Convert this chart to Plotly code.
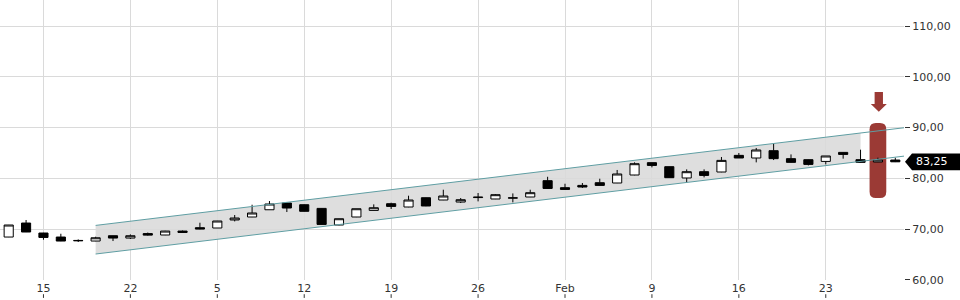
import plotly.graph_objects as go

dates = ["2014-12-11", "2014-12-12", "2014-12-15", "2014-12-16", "2014-12-17", "2014-12-18", "2014-12-19",
         "2014-12-22", "2014-12-23", "2014-12-29", "2014-12-30", "2015-01-02",
         "2015-01-05", "2015-01-06", "2015-01-07", "2015-01-08", "2015-01-09",
         "2015-01-12", "2015-01-13", "2015-01-14", "2015-01-15", "2015-01-16",
         "2015-01-19", "2015-01-20", "2015-01-21", "2015-01-22", "2015-01-23",
         "2015-01-26", "2015-01-27", "2015-01-28", "2015-01-29", "2015-01-30",
         "2015-02-02", "2015-02-03", "2015-02-04", "2015-02-05", "2015-02-06",
         "2015-02-09", "2015-02-10", "2015-02-11", "2015-02-12", "2015-02-13",
         "2015-02-16", "2015-02-17", "2015-02-18", "2015-02-19", "2015-02-20",
         "2015-02-23", "2015-02-24", "2015-02-25", "2015-02-26", "2015-02-27"]

open_ = [68.42, 71.18, 69.21, 68.42, 67.75, 67.63, 68.68, 68.22, 69.10, 68.82, 69.60, 70.26,
         70.20, 71.78, 72.37, 73.80, 75.13, 74.79, 74.07, 70.79, 72.37, 73.67, 74.99, 74.34,
         76.17, 75.72, 75.32, 76.20, 75.92, 76.10, 76.31, 79.53, 78.15, 78.60, 79.13, 79.07,
         80.65, 83.08, 82.29, 80.06, 81.30, 81.24, 84.52, 84.00, 85.44, 83.87, 83.67, 83.33,
         85.11, 83.67, 83.21, 83.60]
high = [70.80, 71.78, 69.25, 69.07, 67.95, 68.48, 68.70, 68.94, 69.30, 69.65, 69.70, 71.24,
        71.60, 72.76, 74.79, 75.52, 75.20, 74.85, 74.10, 72.05, 74.00, 74.86, 75.19, 76.57,
        76.20, 77.75, 76.11, 77.10, 76.90, 77.02, 77.75, 80.30, 78.93, 79.07, 79.92, 81.64,
        83.14, 83.10, 82.30, 81.76, 81.76, 84.20, 84.99, 85.98, 86.82, 84.71, 83.70, 84.40,
        85.15, 85.64, 84.06, 84.06]
low = [68.40, 69.40, 67.89, 67.60, 67.44, 67.60, 67.63, 68.03, 68.70, 68.80, 69.30, 69.95,
       70.20, 71.50, 72.35, 73.80, 73.35, 73.45, 70.90, 70.75, 72.35, 73.65, 73.95, 74.30,
       74.50, 75.70, 75.13, 75.45, 75.90, 75.25, 76.30, 77.98, 77.80, 78.09, 78.58, 79.05,
       80.60, 82.15, 80.10, 79.19, 80.18, 81.20, 84.00, 83.14, 83.60, 83.10, 82.54, 82.74,
       83.87, 83.10, 83.20, 83.20]
close = [70.79, 69.41, 68.34, 67.63, 67.70, 68.28, 68.22, 68.68, 68.80, 69.60, 69.33, 70.00,
         71.58, 72.17, 73.16, 74.93, 74.14, 73.49, 70.91, 72.03, 74.00, 74.20, 74.46, 75.72,
         74.54, 76.51, 75.78, 76.28, 76.77, 76.14, 77.16, 78.00, 77.81, 78.28, 78.60, 80.85,
         82.88, 82.54, 80.12, 81.30, 80.57, 83.53, 84.00, 85.58, 83.87, 83.14, 82.74, 84.40,
         84.71, 83.14, 83.60, 83.25]

tick_dates = ["2014-12-15", "2014-12-22", "2015-01-05", "2015-01-12", "2015-01-19",
              "2015-01-26", "2015-02-02", "2015-02-09", "2015-02-16", "2015-02-23"]
tick_labels = ["15", "22", "5", "12", "19", "26", "Feb", "9", "16", "23"]

# trend channel (start date, end of fill date, extended to right edge)
channel_dates = ["2014-12-18", "2015-02-25"]
channel_upper = [70.71, 88.93]
channel_lower = [65.07, 83.33]

highlight_date = "2015-02-26"
highlight_range = [76.1, 90.9]
arrow_range = [93.1, 97.0]

RED = "#9b3a35"
GRID = "#dadada"
XMIN, XMAX = -0.5, 51.5
YMIN, YMAX = 59.95, 115.15

x = list(range(len(dates)))
tickvals = [dates.index(d) for d in tick_dates]

c0, c1 = dates.index(channel_dates[0]), dates.index(channel_dates[1])
su = (channel_upper[1] - channel_upper[0]) / (c1 - c0)
sl = (channel_lower[1] - channel_lower[0]) / (c1 - c0)
up_ext = channel_upper[0] + su * (XMAX - c0)
lo_ext = channel_lower[0] + sl * (XMAX - c0)

fig = go.Figure()

fig.add_trace(go.Scatter(x=[c0, XMAX], y=[channel_upper[0], up_ext], mode="lines",
                         line=dict(color="#5f9ea3", width=1), hoverinfo="skip", showlegend=False))
fig.add_trace(go.Scatter(x=[c0, XMAX], y=[channel_lower[0], lo_ext], mode="lines",
                         line=dict(color="#5f9ea3", width=1), hoverinfo="skip", showlegend=False))

fig.add_trace(go.Candlestick(
    x=x, open=open_, high=high, low=low, close=close,
    increasing=dict(fillcolor="white", line=dict(color="black", width=1)),
    decreasing=dict(fillcolor="black", line=dict(color="black", width=1)),
    whiskerwidth=0, showlegend=False))

shapes = []
# channel band fill (below grid)
band_path = (f"M {c0},{channel_lower[0]} L {c1},{channel_lower[1]} "
             f"L {c1},{channel_upper[1]} L {c0},{channel_upper[0]} Z")
shapes.append(dict(type="path", path=band_path, xref="x", yref="y", layer="below",
                   fillcolor="#dedede", line=dict(width=0)))

# highlight rounded bar
hi = dates.index(highlight_date)
hw = 0.48
rx, ry = 0.36, 1.25
yb, yt = highlight_range
xl, xr = hi - hw, hi + hw
hl_path = (f"M {xl},{yb+ry} L {xl},{yt-ry} Q {xl},{yt} {xl+rx},{yt} L {xr-rx},{yt} "
           f"Q {xr},{yt} {xr},{yt-ry} L {xr},{yb+ry} Q {xr},{yb} {xr-rx},{yb} "
           f"L {xl+rx},{yb} Q {xl},{yb} {xl},{yb+ry} Z")
shapes.append(dict(type="path", path=hl_path, xref="x", yref="y", layer="between",
                   fillcolor=RED, line=dict(width=0)))

# arrow
ax_c = hi + 0.05
sw, hw2 = 0.24, 0.46
a_tip, a_top = arrow_range
a_base = a_tip + 1.57
arrow_path = (f"M {ax_c-sw},{a_top} L {ax_c+sw},{a_top} L {ax_c+sw},{a_base} "
              f"L {ax_c+hw2},{a_base} L {ax_c},{a_tip} L {ax_c-hw2},{a_base} "
              f"L {ax_c-sw},{a_base} Z")
shapes.append(dict(type="path", path=arrow_path, xref="x", yref="y", layer="above",
                   fillcolor=RED, line=dict(width=0)))

# bottom small ticks under labels
for tv in tickvals:
    px = (tv - XMIN) / (XMAX - XMIN)
    shapes.append(dict(type="line", xref="paper", yref="paper", x0=px, x1=px,
                       y0=-0.0507, y1=-0.064, line=dict(color="#333333", width=1)))

# last price tag
last = close[-1]
pw = 904.0
hh = 1.65
tag_path = (f"M {905/pw},{last} L {912/pw},{last+hh} L {960/pw},{last+hh} "
            f"L {960/pw},{last-hh} L {912/pw},{last-hh} Z")
shapes.append(dict(type="path", path=tag_path, xref="paper", yref="y", layer="above",
                   fillcolor="black", line=dict(width=0)))

fig.update_layout(
    width=960, height=300,
    margin=dict(l=0, r=56, t=0, b=20),
    paper_bgcolor="white", plot_bgcolor="white",
    separators=",.",
    boxgap=0.25,
    font=dict(family="DejaVu Sans", size=11, color="#333333"),
    shapes=shapes,
    annotations=[dict(x=931.5 / pw, y=last, xref="paper", yref="y",
                      text=f"{last:.2f}".replace(".", ","), showarrow=False,
                      font=dict(color="white", size=11, family="DejaVu Sans"),
                      xanchor="center", yanchor="middle")],
    xaxis=dict(range=[XMIN, XMAX], tickvals=tickvals, ticktext=tick_labels,
               showgrid=True, gridcolor=GRID, gridwidth=1, zeroline=False,
               showline=False, ticks="", rangeslider=dict(visible=False),
               tickfont=dict(size=11, color="#333333")),
    yaxis=dict(range=[YMIN, YMAX], side="right", tickvals=[60, 70, 80, 90, 100, 110],
               tickformat=".2f", showgrid=True, gridcolor=GRID, gridwidth=1,
               zeroline=False, showline=False, ticks="outside", ticklen=5,
               tickcolor="#333333", tickfont=dict(size=11, color="#333333")),
)

fig.write_html("out.html")
